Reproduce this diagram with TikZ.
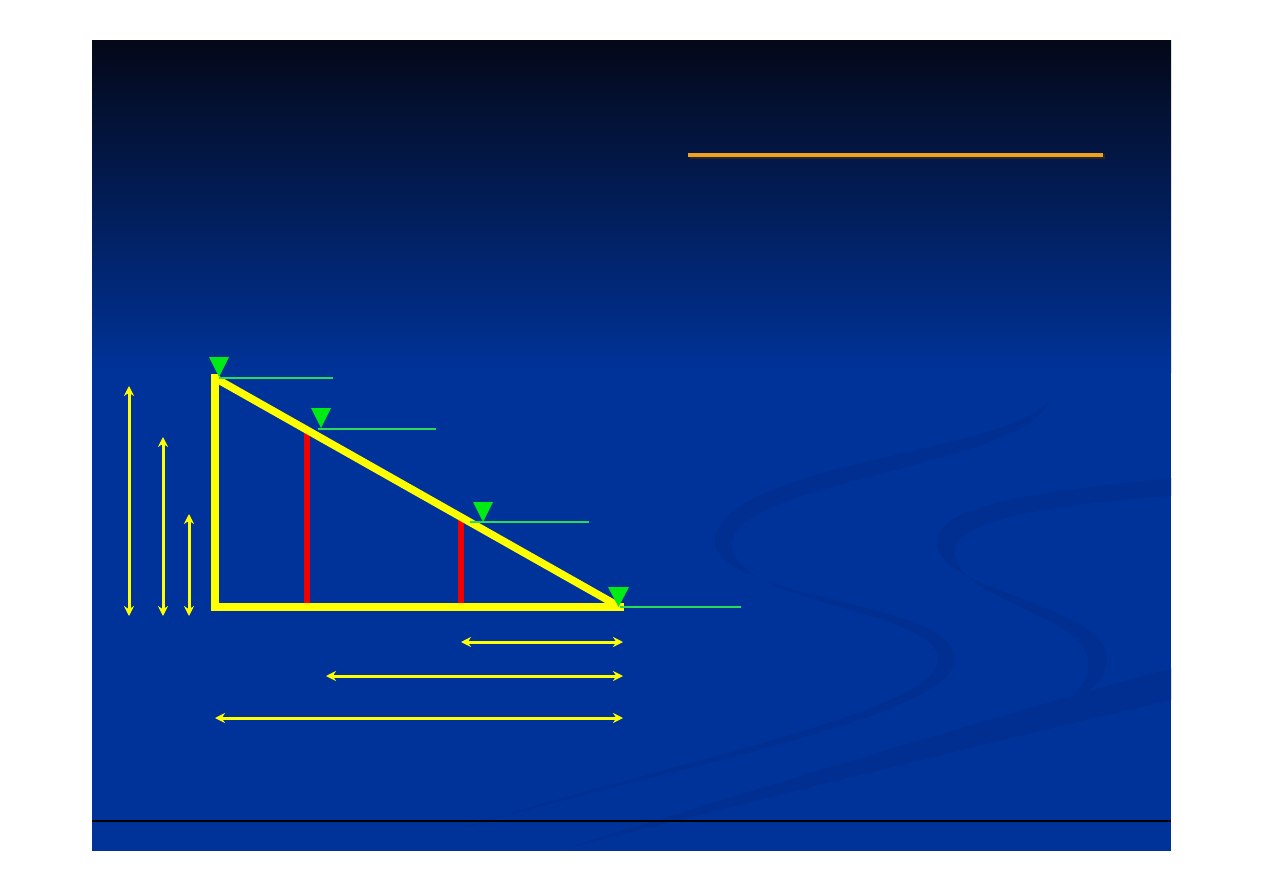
\documentclass[tikz,border=0pt]{standalone}
\usetikzlibrary{arrows.meta}
\definecolor{slideblue}{RGB}{0,51,153}
\definecolor{slidetop}{RGB}{4,8,24}
\definecolor{swooshc}{RGB}{0,47,146}
\definecolor{ylw}{RGB}{255,255,0}
\definecolor{grntri}{RGB}{0,235,20}
\definecolor{grnline}{RGB}{40,220,90}
\definecolor{orng}{RGB}{240,160,30}
\definecolor{redl}{RGB}{240,0,0}
\tikzset{
  wall/.style={draw=ylw,line width=7.5pt,line cap=rect},
  gauge/.style={draw=redl,line width=6pt},
  level/.style={draw=grnline,line width=2.6pt},
  wmark/.style={fill=grntri},
  dim/.style={draw=ylw,line width=3pt,{Stealth[length=10pt,width=10pt]}-{Stealth[length=10pt,width=10pt]}},
  swoosh/.style={fill=swooshc}
}
\begin{document}
\begin{tikzpicture}[x=1pt,y=-1pt]
\useasboundingbox (0,0) rectangle (1263,893);
\fill[white] (0,0) rectangle (1263,893);
% slide background
\fill[slideblue] (92,41) rectangle (1171,851);
\shade[top color=slidetop,bottom color=slideblue] (92,41) rectangle (1171,372);
% decorative swooshes
\begin{scope}
\clip (92,41) rectangle (1171,851);
\fill[swoosh] (1050,395) .. controls (1040,450) and (720,460) .. (715,540)
  .. controls (712,600) and (960,600) .. (955,660)
  .. controls (950,720) and (650,770) .. (440,835)
  .. controls (650,765) and (935,715) .. (938,660)
  .. controls (940,610) and (735,605) .. (732,545)
  .. controls (730,480) and (1045,465) .. (1050,395) -- cycle;
\fill[swoosh] (1171,478) .. controls (1000,495) and (935,510) .. (937,545)
  .. controls (940,592) and (1110,605) .. (1107,660)
  .. controls (1105,685) and (1085,695) .. (1060,705)
  .. controls (1080,690) and (1090,680) .. (1088,660)
  .. controls (1085,615) and (955,600) .. (955,552)
  .. controls (955,520) and (1050,505) .. (1171,496) -- cycle;
\fill[swoosh] (1171,668) -- (1171,700)
  .. controls (1000,740) and (800,790) .. (560,850)
  .. controls (800,775) and (1000,715) .. (1171,668) -- cycle;
\end{scope}
% footer line
\draw[black,line width=1.2pt] (92,821) -- (1171,821);
% title underline with shadow
\draw[black!85,line width=5pt] (689.5,157) -- (1104.5,157);
\draw[orng,line width=4.5pt] (688,155) -- (1103,155);
% triangle geometry
\coordinate (A) at (215,378);
\coordinate (B) at (215,607);
\coordinate (C) at (620,607);
\coordinate (P1t) at (307,430);
\coordinate (P1b) at (307,607);
\coordinate (P2t) at (461,517);
\coordinate (P2b) at (461,607);
% gauges
\draw[gauge] (P1t) -- (P1b);
\draw[gauge] (P2t) -- (P2b);
% channel walls
\draw[wall] (A) -- (B) -- (C);
\draw[wall,line cap=butt] (A) -- (C);
% water levels
\coordinate (L1a) at (219,378); \coordinate (L1b) at (333,378);
\coordinate (L2a) at (318,429); \coordinate (L2b) at (436,429);
\coordinate (L3a) at (470,522); \coordinate (L3b) at (589,522);
\coordinate (L4a) at (620,607); \coordinate (L4b) at (741,607);
\draw[level] (L1a) -- (L1b);
\draw[level] (L2a) -- (L2b);
\draw[level] (L3a) -- (L3b);
\draw[level] (L4a) -- (L4b);
\fill[wmark] (209,357) -- (229,357) -- (219,377) -- cycle;
\fill[wmark] (311,408) -- (331,408) -- (321,428) -- cycle;
\fill[wmark] (473,502) -- (493,502) -- (483,522) -- cycle;
\fill[wmark] (608,587) -- (629,587) -- (618.5,607) -- cycle;
% vertical dimension arrows
\coordinate (V1t) at (129,386); \coordinate (V1b) at (129,616);
\coordinate (V2t) at (163,437); \coordinate (V2b) at (163,616);
\coordinate (V3t) at (189,514); \coordinate (V3b) at (189,616);
\draw[dim] (V1t) -- (V1b);
\draw[dim] (V2t) -- (V2b);
\draw[dim] (V3t) -- (V3b);
% horizontal dimension arrows
\coordinate (H1l) at (461,642); \coordinate (H1r) at (623,642);
\coordinate (H2l) at (326,676); \coordinate (H2r) at (623,676);
\coordinate (H3l) at (215,718); \coordinate (H3r) at (623,718);
\draw[dim] (H1l) -- (H1r);
\draw[dim] (H2l) -- (H2r);
\draw[dim] (H3l) -- (H3r);
\end{tikzpicture}
\end{document}
